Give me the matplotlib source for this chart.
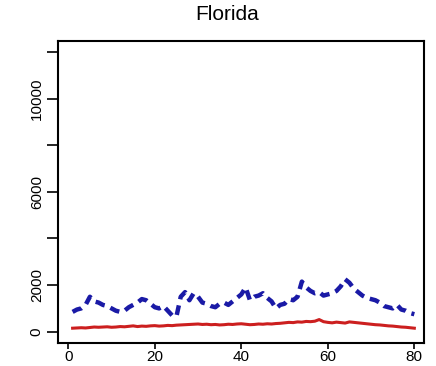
import numpy as np
import matplotlib
matplotlib.use('Agg')
import matplotlib.pyplot as plt

plt.rcParams['font.family'] = ['Liberation Sans', 'DejaVu Sans']

# weekly counts for Florida
weeks = list(range(1, 81))
series_blue = [850, 950, 1000, 1150, 1500, 1300, 1250, 1150, 1100, 1000,
               900, 850, 900, 1050, 1150, 1250, 1400, 1350, 1200, 1050,
               1000, 1100, 900, 700, 650, 1500, 1700, 1350, 1650, 1500,
               1250, 1200, 1100, 1050, 1200, 1250, 1150, 1300, 1450, 1600,
               1900, 1350, 1500, 1550, 1650, 1450, 1300, 1000, 1150, 1200,
               1400, 1350, 1500, 2150, 1900, 1750, 1650, 1700, 1550, 1600,
               1650, 1750, 1950, 2250, 2100, 1850, 1700, 1550, 1450, 1400,
               1350, 1250, 1100, 1050, 1000, 1150, 950, 900, 800, 750]
series_red = [150, 160, 170, 160, 180, 200, 190, 200, 210, 190,
              200, 220, 210, 230, 250, 220, 240, 230, 250, 260,
              240, 250, 270, 260, 280, 290, 300, 310, 320, 330,
              310, 320, 300, 310, 290, 300, 320, 310, 330, 340,
              320, 300, 310, 330, 320, 340, 330, 350, 360, 380,
              400, 390, 420, 410, 440, 430, 450, 520, 430, 400,
              380, 410, 390, 370, 420, 400, 380, 360, 340, 320,
              300, 290, 270, 250, 240, 220, 200, 190, 170, 150]

y_ticks = [0, 2000, 4000, 6000, 8000, 10000, 12000]
y_labels = ['0', '2000', '', '6000', '', '10000', '']
x_ticks = [0, 20, 40, 60, 80]

fig = plt.figure(figsize=(4.36, 3.66), dpi=100)
ax = fig.add_axes([0.1323, 0.0637, 0.8408, 0.8251])

ax.plot(weeks, series_blue, color='#1a1aa6', linewidth=3.2,
        linestyle=(0, (2.2, 1.4)))
ax.plot(weeks, series_red, color='#cc1f1f', linewidth=2.2)

ax.set_xlim(-2.45, 82.3)
ax.set_ylim(-472, 12490)
ax.set_xticks(x_ticks)
ax.set_yticks(y_ticks)
ax.set_yticklabels(y_labels, rotation=90, va='center')
ax.tick_params(axis='y', direction='out', length=8, width=1.2,
               labelsize=11, pad=2)
ax.tick_params(axis='x', direction='out', length=4, width=1.2,
               labelsize=11, pad=1)
for sp in ax.spines.values():
    sp.set_linewidth(1.5)

fig.text(0.521, 1 - 15 / 366, 'Florida', fontsize=15,
         ha='center', va='center')

fig.savefig('out.png', dpi=100)
